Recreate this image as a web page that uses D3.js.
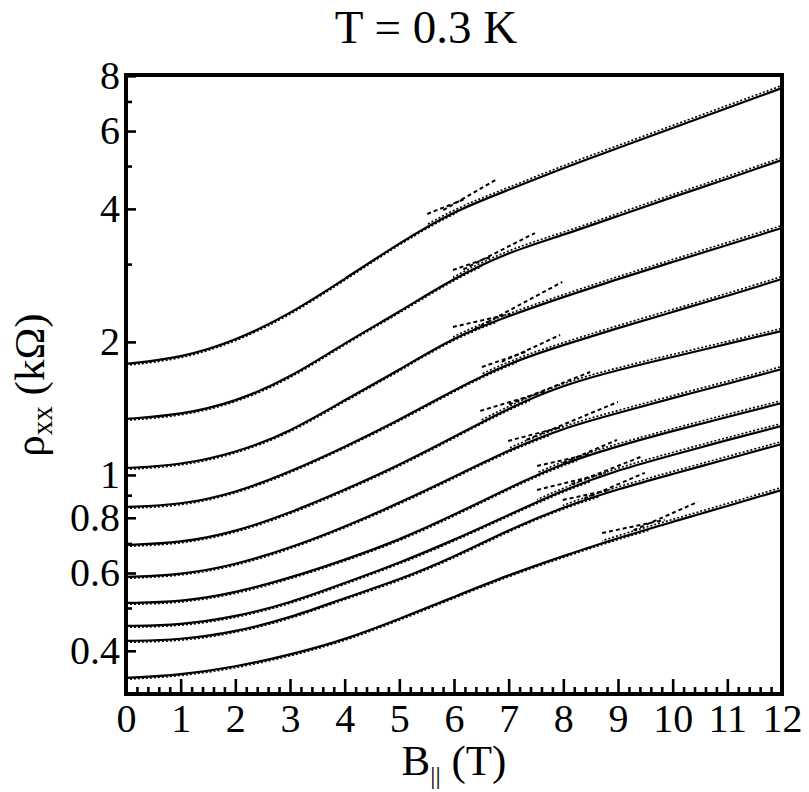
<!DOCTYPE html>
<html>
<head>
<meta charset="utf-8">
<script src="https://cdn.jsdelivr.net/npm/d3@7"></script>
<style>
  body { margin: 0; background: #fff; }
</style>
</head>
<body>
<div id="chart"></div>
<script>
// field values (T) where the curves were read
const fieldB = [0, 1, 2, 3, 4, 5, 6, 7, 8, 9, 10, 11, 12];

// rho_xx (kOhm), top curve first
const rho1 = [1.783, 1.839, 2.010, 2.313, 2.776, 3.349, 3.957, 4.414, 4.950, 5.493, 6.097, 6.767, 7.508];
const rho2 = [1.339, 1.367, 1.463, 1.658, 1.989, 2.338, 2.790, 3.195, 3.491, 3.855, 4.256, 4.674, 5.161];
const rho3 = [1.037, 1.053, 1.121, 1.251, 1.478, 1.728, 2.052, 2.290, 2.527, 2.776, 3.033, 3.314, 3.621];
const rho4 = [0.8465, 0.8554, 0.9105, 1.016, 1.157, 1.331, 1.557, 1.792, 1.968, 2.151, 2.338, 2.541, 2.776];
const rho5 = [0.6944, 0.7018, 0.7430, 0.8203, 0.9250, 1.053, 1.219, 1.418, 1.598, 1.728, 1.849, 1.979, 2.118];
const rho6 = [0.5879, 0.5941, 0.6258, 0.6835, 0.7628, 0.8643, 0.9897, 1.139, 1.277, 1.381, 1.493, 1.607, 1.737];
const rho7 = [0.5133, 0.5160, 0.5408, 0.5848, 0.6423, 0.7127, 0.8119, 0.9345, 1.064, 1.163, 1.257, 1.353, 1.455];
const rho8 = [0.4554, 0.4576, 0.4773, 0.5133, 0.5697, 0.6322, 0.7127, 0.8119, 0.9250, 1.026, 1.110, 1.200, 1.291];
const rho9 = [0.4211, 0.4234, 0.4414, 0.4748, 0.5270, 0.5787, 0.6523, 0.7513, 0.8465, 0.9296, 1.005, 1.087, 1.175];
const rho10 = [0.3473, 0.3528, 0.3677, 0.3915, 0.4234, 0.4722, 0.5297, 0.5941, 0.6557, 0.7205, 0.7829, 0.8509, 0.9249];
const curves = [rho1, rho2, rho3, rho4, rho5, rho6, rho7, rho8, rho9, rho10];

// dashed asymptote lines: left end of high-field line, crossing point, right end of low-field line
const tangentL_B = [5.51, 5.98, 5.98, 6.51, 6.48, 6.99, 7.52, 7.52, 7.99, 8.71];
const tangentL_rho = [3.895, 2.909, 2.162, 1.755, 1.396, 1.194, 1.048, 0.925, 0.878, 0.739];
const crossB = [6.06, 6.51, 6.79, 7.15, 7.39, 7.76, 8.25, 8.49, 8.67, 9.59];
const crossRho = [4.146, 3.065, 2.278, 1.869, 1.509, 1.264, 1.098, 0.990, 0.915, 0.779];
const tangentR_B = [6.79, 7.48, 7.98, 7.94, 8.49, 9.00, 8.98, 9.46, 9.49, 10.46];
const tangentR_rho = [4.674, 3.527, 2.733, 2.073, 1.710, 1.463, 1.200, 1.104, 1.011, 0.869];

// axis ticks
const yMajor = [0.4, 0.6, 0.8, 1, 2, 4, 6, 8];
const yMinor = [0.5, 0.7, 0.9, 3, 5, 7];
const xMajor = d3.range(0, 13);
const xMinor = d3.range(0, 60).map(i => i * 0.2).filter(v => Math.abs(v - Math.round(v)) > 0.01);

const FONT = "'Liberation Serif'";

const width = 809;
const height = 792;
const margin = { top: 75, right: 27, bottom: 98, left: 126 };
const innerW = width - margin.left - margin.right;
const innerH = height - margin.top - margin.bottom;

const svg = d3.select("#chart")
    .append("svg")
    .attr("width", width)
    .attr("height", height)
    .attr("font-family", FONT);

const g = svg.append("g")
    .attr("transform", `translate(${margin.left},${margin.top})`);

const x = d3.scaleLinear().domain([0, 12]).range([0, innerW]);
const y = d3.scaleLog().domain([0.3194, 8.035]).range([innerH, 0]);

const line = d3.line()
    .x(d => x(d[0]))
    .y(d => y(d[1]))
    .curve(d3.curveBasis);

const defs = svg.append("defs");

curves.forEach((series, i) => {
    const pts = fieldB.map((b, j) => [b, series[j]]);

    defs.append("clipPath").attr("id", "low" + i)
        .append("rect")
        .attr("x", -2).attr("y", -10)
        .attr("width", x(crossB[i]) + 2).attr("height", innerH + 20);
    defs.append("clipPath").attr("id", "high" + i)
        .append("rect")
        .attr("x", x(tangentL_B[i])).attr("y", -10)
        .attr("width", innerW - x(tangentL_B[i])).attr("height", innerH + 20);

    g.append("path")
        .attr("d", line(pts))
        .attr("fill", "none")
        .attr("stroke", "#000")
        .attr("stroke-width", 2.2);

    // low-field fit (dotted)
    g.append("path")
        .attr("d", line(pts))
        .attr("clip-path", `url(#low${i})`)
        .attr("transform", "translate(0,1.4)")
        .attr("fill", "none")
        .attr("stroke", "#000")
        .attr("stroke-width", 1.6)
        .attr("stroke-dasharray", "2,2");

    // high-field fit (dotted)
    g.append("path")
        .attr("d", line(pts))
        .attr("clip-path", `url(#high${i})`)
        .attr("transform", "translate(0,-2.5)")
        .attr("fill", "none")
        .attr("stroke", "#000")
        .attr("stroke-width", 1.6)
        .attr("stroke-dasharray", "2,2");

    // asymptote lines, drawn a little past the crossing
    const L = [tangentL_B[i], tangentL_rho[i]];
    const P = [crossB[i], crossRho[i]];
    const R = [tangentR_B[i], tangentR_rho[i]];
    const ext = (a, b, t) => [b[0] + t * (b[0] - a[0]), Math.exp(Math.log(b[1]) + t * (Math.log(b[1]) - Math.log(a[1])))];
    const straight = d3.line().x(d => x(d[0])).y(d => y(d[1]));

    g.append("path")
        .attr("d", straight([L, ext(L, P, 0.3)]))
        .attr("fill", "none")
        .attr("stroke", "#000")
        .attr("stroke-width", 2)
        .attr("stroke-dasharray", "4,3");
    g.append("path")
        .attr("d", straight([ext(R, P, 0.35), R]))
        .attr("fill", "none")
        .attr("stroke", "#000")
        .attr("stroke-width", 2)
        .attr("stroke-dasharray", "4,3");
});

// axes with inward ticks
g.append("g")
    .attr("transform", `translate(0,${innerH})`)
    .call(d3.axisBottom(x).tickValues(xMajor).tickSize(-15).tickPadding(10).tickFormat(d3.format("d")));
g.append("g")
    .attr("transform", `translate(0,${innerH})`)
    .call(d3.axisBottom(x).tickValues(xMinor).tickSize(-7).tickFormat(""));

g.append("g")
    .call(d3.axisLeft(y).tickValues(yMajor).tickSize(-10).tickPadding(6).tickFormat(d3.format("~g")));
g.append("g")
    .call(d3.axisLeft(y).tickValues(yMinor).tickSize(-6).tickFormat(""));

g.selectAll(".domain").remove();
g.selectAll(".tick line").attr("stroke", "#000").attr("stroke-width", 2.6);
g.selectAll("g").attr("font-family", FONT).attr("font-size", 40);
g.selectAll(".tick text")
    .attr("fill", "#000")
    .attr("font-family", FONT)
    .attr("font-size", 40);

// frame
g.append("rect")
    .attr("x", 0).attr("y", 0)
    .attr("width", innerW).attr("height", innerH)
    .attr("fill", "none")
    .attr("stroke", "#000")
    .attr("stroke-width", 4);

// title
svg.append("text")
    .attr("x", 426)
    .attr("y", 43)
    .attr("text-anchor", "middle")
    .attr("font-family", FONT)
    .attr("font-size", 47)
    .text("T = 0.3 K");

// x label
const xl = svg.append("text")
    .attr("x", margin.left + innerW / 2)
    .attr("y", 775)
    .attr("text-anchor", "middle")
    .attr("font-family", FONT)
    .attr("font-size", 43);
xl.append("tspan").text("B");
xl.append("tspan").attr("dy", 9).attr("font-size", 26).text("||");
xl.append("tspan").attr("dy", -9).text(" (T)");

// y label
const yl = svg.append("text")
    .attr("transform", "translate(44,385) rotate(-90)")
    .attr("text-anchor", "middle")
    .attr("font-family", FONT)
    .attr("font-size", 43);
yl.append("tspan").text("ρ");
yl.append("tspan").attr("dy", 8).attr("font-size", 29).text("xx");
yl.append("tspan").attr("dy", -8).text(" (kΩ)");
</script>
</body>
</html>
